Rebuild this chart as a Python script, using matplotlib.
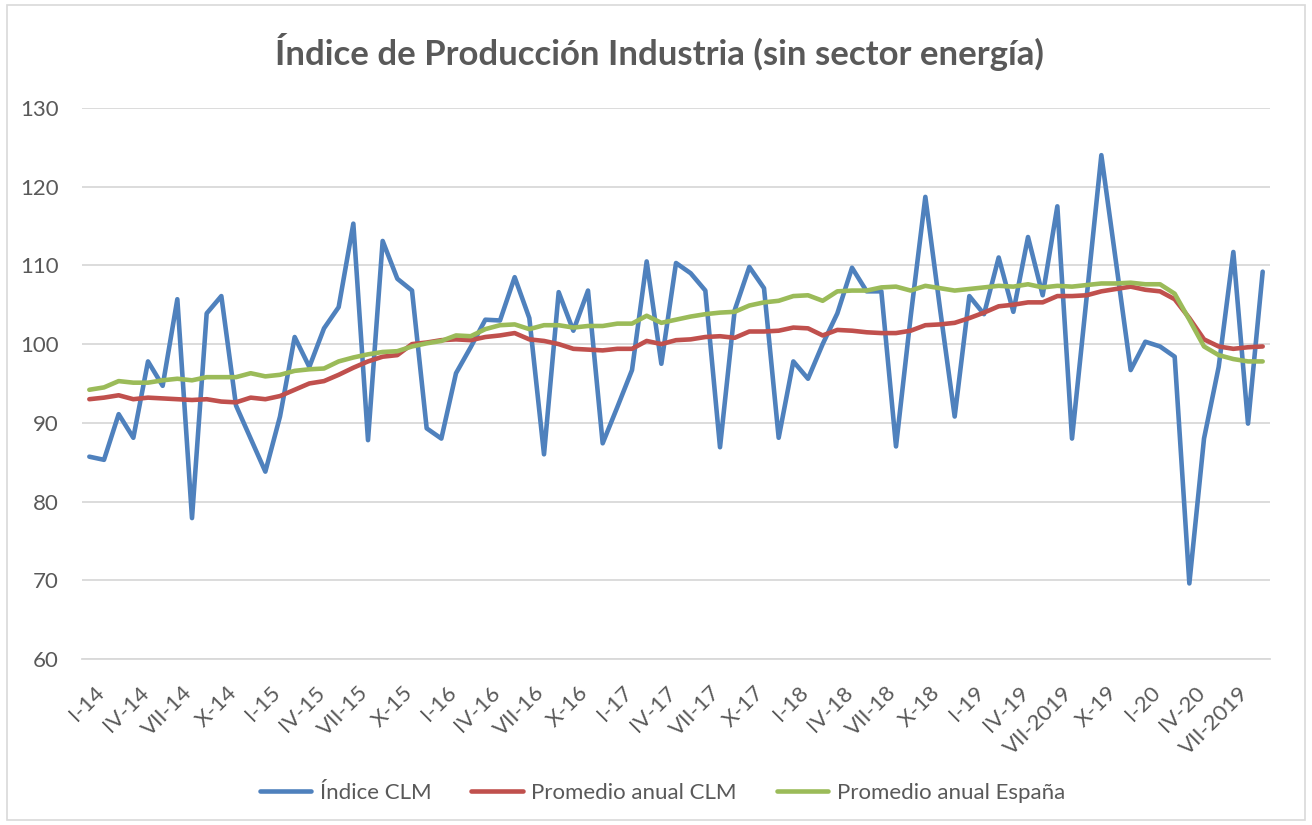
import numpy as np
import matplotlib
matplotlib.use("Agg")
import matplotlib.pyplot as plt
from matplotlib.patches import Rectangle
from matplotlib.transforms import ScaledTranslation

# monthly data, I-14 .. IX-20
indice_clm = [
    85.7, 85.3, 91.1, 88.1, 97.8, 94.7, 105.7, 77.9, 103.9, 106.1, 92.2, 88.0,
    83.8, 90.8, 100.9, 97.1, 102.0, 104.7, 115.3, 87.8, 113.1, 108.3, 106.8, 89.3,
    88.0, 96.3, 99.6, 103.1, 103.0, 108.5, 103.3, 86.0, 106.6, 101.7, 106.8, 87.4,
    92.0, 96.7, 110.5, 97.5, 110.3, 109.0, 106.8, 86.9, 104.3, 109.8, 107.1, 88.1,
    97.8, 95.6, 100.0, 103.9, 109.7, 106.7, 106.7, 87.0, 103.5, 118.7, 104.5, 90.8,
    106.1, 103.8, 111.0, 104.1, 113.6, 106.2, 117.5, 88.0, 106.0, 124.0, 110.4, 96.7,
    100.3, 99.7, 98.4, 69.6, 88.0, 97.1, 111.7, 89.9, 109.2,
]
promedio_clm = [
    93.0, 93.2, 93.5, 93.0, 93.2, 93.1, 93.0, 92.9, 93.0, 92.7, 92.6, 93.2,
    93.0, 93.4, 94.2, 95.0, 95.3, 96.1, 97.0, 97.8, 98.4, 98.6, 100.0, 100.2,
    100.5, 100.6, 100.5, 100.9, 101.1, 101.4, 100.6, 100.4, 100.0, 99.4, 99.3, 99.2,
    99.4, 99.4, 100.4, 100.0, 100.5, 100.6, 100.9, 101.0, 100.8, 101.6, 101.6, 101.7,
    102.1, 102.0, 101.1, 101.8, 101.7, 101.5, 101.4, 101.4, 101.7, 102.4, 102.5, 102.7,
    103.3, 104.0, 104.8, 105.0, 105.3, 105.3, 106.1, 106.1, 106.2, 106.7, 107.0, 107.3,
    106.9, 106.7, 105.7, 103.3, 100.6, 99.7, 99.4, 99.6, 99.7,
]
promedio_espana = [
    94.2, 94.5, 95.3, 95.1, 95.1, 95.4, 95.6, 95.4, 95.8, 95.8, 95.8, 96.3,
    95.9, 96.1, 96.6, 96.8, 96.9, 97.8, 98.3, 98.7, 99.0, 99.1, 99.7, 100.1,
    100.4, 101.1, 101.0, 101.9, 102.4, 102.5, 101.9, 102.4, 102.4, 102.1, 102.3, 102.3,
    102.6, 102.6, 103.6, 102.7, 103.1, 103.5, 103.8, 104.0, 104.1, 104.9, 105.3, 105.5,
    106.1, 106.2, 105.5, 106.7, 106.8, 106.8, 107.2, 107.3, 106.8, 107.4, 107.1, 106.8,
    107.0, 107.2, 107.4, 107.3, 107.6, 107.2, 107.4, 107.3, 107.5, 107.7, 107.7, 107.8,
    107.6, 107.6, 106.4, 103.1, 99.7, 98.6, 98.1, 97.8, 97.8,
]

tick_labels = [
    "I-14", "IV-14", "VII-14", "X-14", "I-15", "IV-15", "VII-15", "X-15",
    "I-16", "IV-16", "VII-16", "X-16", "I-17", "IV-17", "VII-17", "X-17",
    "I-18", "IV-18", "VII-18", "X-18", "I-19", "IV-19", "VII-2019", "X-19",
    "I-20", "IV-20", "VII-2019",
]

series_names = ["Índice CLM", "Promedio anual CLM", "Promedio anual España"]
colors = ["#4F81BD", "#C0504D", "#9BBB59"]

plt.rcParams["font.family"] = ["Lato", "DejaVu Sans"]
text_color = "#595959"
grid_color = "#D9D9D9"

fig = plt.figure(figsize=(13.12, 8.25), dpi=100)
ax = fig.add_axes([0.0625, 0.2012, 0.9055, 0.668])

x = np.arange(len(indice_clm))
for values, name, color in zip([indice_clm, promedio_clm, promedio_espana], series_names, colors):
    ax.plot(x, values, color=color, lw=3.3, label=name, solid_joinstyle="round", solid_capstyle="round")

ax.set_xlim(-0.5, len(x) - 0.5)
ax.set_ylim(60, 130)
ax.set_yticks(np.arange(60, 131, 10))
ax.yaxis.grid(True, color=grid_color, lw=1.3)
ax.set_axisbelow(True)
for s in ["top", "right", "left"]:
    ax.spines[s].set_visible(False)
ax.spines["bottom"].set_color(grid_color)
ax.spines["bottom"].set_linewidth(1.3)

ax.set_xticks(x[::3])
ax.set_xticklabels(tick_labels, rotation=45, ha="right", va="top", rotation_mode="anchor")
ax.tick_params(axis="x", length=0, pad=17, labelsize=16, labelcolor=text_color)
ax.tick_params(axis="y", length=0, pad=17, labelsize=16, labelcolor=text_color)
offset = ScaledTranslation(5 / 100, 0, fig.dpi_scale_trans)
for lab in ax.get_xticklabels():
    lab.set_transform(lab.get_transform() + offset)

fig.text(0.503, 0.937, "Índice de Producción Industria (sin sector energía)",
         ha="center", va="center", fontsize=25, fontweight="bold", color=text_color)

fig.legend(loc="center", bbox_to_anchor=(0.505, 0.039), ncol=3, frameon=False,
           fontsize=16, labelcolor=text_color, handlelength=2.3, columnspacing=1.8,
           handletextpad=0.4)

fig.patches.append(Rectangle((0.005, 0.006), 0.99, 0.988, transform=fig.transFigure,
                             fill=False, edgecolor=grid_color, lw=1.2))

fig.savefig("out.png", dpi=100)
